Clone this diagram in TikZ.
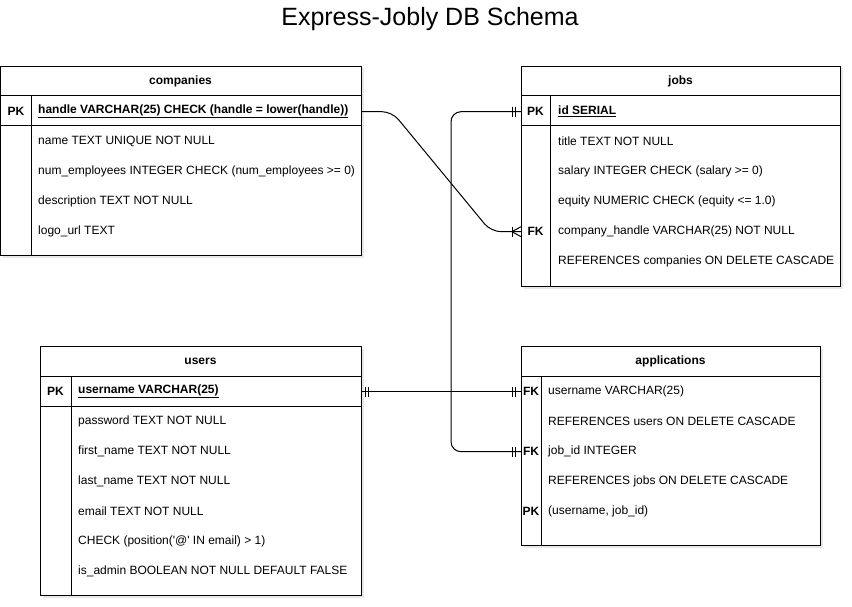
\documentclass[tikz,border=0pt]{standalone}
\usepackage{fontspec}
\setmainfont{Liberation Sans}
\usetikzlibrary{calc, arrows.meta, shadows, decorations.markings}

\tikzset{
    tbl/.style={draw, line width=1pt, fill=white, anchor=north west, inner sep=0pt,
        drop shadow={opacity=0.18, shadow xshift=2pt, shadow yshift=-2pt}},
    rule/.style={line width=1pt},
    hdr/.style={font=\fontsize{12}{14}\selectfont\bfseries, inner sep=0pt, yshift=-0.7pt},
    keycol/.style={font=\fontsize{12}{14}\selectfont\bfseries, inner sep=0pt, yshift=-0.7pt},
    fld/.style={anchor=west, font=\fontsize{12}{14}\selectfont, inner sep=0pt, yshift=-0.7pt},
    pkfld/.style={fld, font=\fontsize{12}{14}\selectfont\bfseries},
    conn/.style={line width=1pt, rounded corners=10pt, postaction={decorate}},
}
\pgfkeys{/pgf/decoration/onebar/.style={mark=at position #1 with {\draw[line width=1pt] (0,-5pt) -- (0,5pt);}}}

\begin{document}
\begin{tikzpicture}[x=1pt, y=-1pt]
    \useasboundingbox (0,0) rectangle (852,607);
    \node[font=\fontsize{25}{29}\selectfont, inner sep=0pt] (title) at (430,19) {Express-Jobly DB Schema};

    % companies
    \node[tbl, minimum width=361pt, minimum height=189pt] (companies) at (0,66) {};
    \draw[rule] (0,96) -- (361,96) (0,126) -- (361,126) (31,96) -- (31,255);
    \node[hdr] (companies-h) at (180.5,81) {companies};
    \node[keycol] (c-pk) at (16,111) {PK};
    \node[pkfld] (c-handle) at (38,111) {\underline{handle VARCHAR(25) CHECK (handle = lower(handle))}};
    \node[fld] (c-name) at (38,141) {name TEXT UNIQUE NOT NULL};
    \node[fld] (c-num) at (38,171) {num\_employees INTEGER CHECK (num\_employees >= 0)};
    \node[fld] (c-desc) at (38,201) {description TEXT NOT NULL};
    \node[fld] (c-logo) at (38,231) {logo\_url TEXT};

    % jobs
    \node[tbl, minimum width=319pt, minimum height=220pt] (jobs) at (521,66) {};
    \draw[rule] (521,96) -- (840,96) (521,126) -- (840,126) (550,96) -- (550,286);
    \node[hdr] (jobs-h) at (680.5,81) {jobs};
    \node[keycol] (j-pk) at (535.5,111) {PK};
    \node[pkfld] (j-id) at (558,111) {\underline{id SERIAL}};
    \node[fld] (j-title) at (558,141) {title TEXT NOT NULL};
    \node[fld] (j-salary) at (558,171) {salary INTEGER CHECK (salary >= 0)};
    \node[fld] (j-equity) at (558,201) {equity NUMERIC CHECK (equity <= 1.0)};
    \node[keycol] (j-fk) at (535.5,231) {FK};
    \node[fld] (j-company) at (558,231) {company\_handle VARCHAR(25) NOT NULL};
    \node[fld] (j-ref) at (558,261) {REFERENCES companies ON DELETE CASCADE};

    % users
    \node[tbl, minimum width=321pt, minimum height=249pt] (users) at (40,346) {};
    \draw[rule] (40,376) -- (361,376) (40,406) -- (361,406) (71,376) -- (71,595);
    \node[hdr] (users-h) at (200.5,361) {users};
    \node[keycol] (u-pk) at (55.5,391) {PK};
    \node[pkfld] (u-username) at (78,391) {\underline{username VARCHAR(25)}};
    \node[fld] (u-password) at (78,421) {password TEXT NOT NULL};
    \node[fld] (u-first) at (78,451) {first\_name TEXT NOT NULL};
    \node[fld] (u-last) at (78,481) {last\_name TEXT NOT NULL};
    \node[fld] (u-email) at (78,511) {email TEXT NOT NULL};
    \node[fld] (u-check) at (78,541) {CHECK (position(\textquotesingle @\textquotesingle{} IN email) > 1)};
    \node[fld] (u-admin) at (78,571) {is\_admin BOOLEAN NOT NULL DEFAULT FALSE};

    % applications
    \node[tbl, minimum width=299pt, minimum height=199pt] (applications) at (521,346) {};
    \draw[rule] (521,376) -- (820,376) (541,376) -- (541,545);
    \node[hdr] (applications-h) at (670.5,361) {applications};
    \node[keycol] (a-fk1) at (531,391) {FK};
    \node[fld] (a-username) at (548,391) {username VARCHAR(25)};
    \node[fld] (a-ref1) at (548,421) {REFERENCES users ON DELETE CASCADE};
    \node[keycol] (a-fk2) at (531,451) {FK};
    \node[fld] (a-job) at (548,451) {job\_id INTEGER};
    \node[fld] (a-ref2) at (548,481) {REFERENCES jobs ON DELETE CASCADE};
    \node[keycol] (a-pk) at (531,511) {PK};
    \node[fld] (a-key) at (548,511) {(username, job\_id)};

    % relations
    \draw[conn, decoration={markings, onebar=-9pt,
        mark=at position -9pt with {\draw[line width=1pt] (0,0) -- (9pt,5pt) (0,0) -- (9pt,-5pt);}}]
        (c-handle.west -| companies.east) -- ++(30,0) -- ($(j-company.west -| jobs.west)+(-30,0)$) -- (j-company.west -| jobs.west);
    \draw[conn, decoration={markings, onebar=6pt, onebar=9pt, onebar=-9pt, onebar=-6pt}]
        (j-id.west -| jobs.west) -- ++(-70,0) |- (a-job.west -| applications.west);
    \draw[conn, decoration={markings, onebar=3pt, onebar=6pt, onebar=-9pt, onebar=-6pt}]
        (u-username.west -| users.east) -- (a-username.west -| applications.west);
\end{tikzpicture}
\end{document}
